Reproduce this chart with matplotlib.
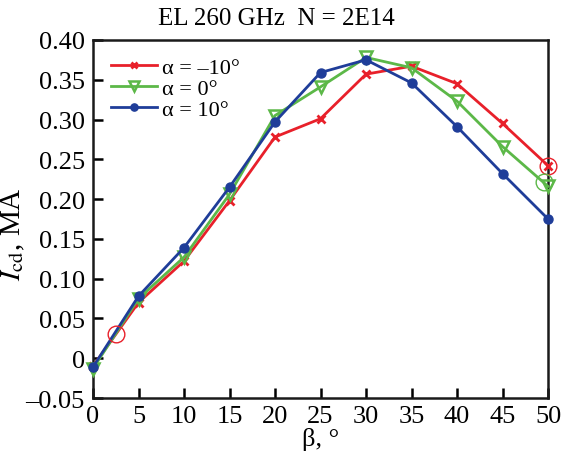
import matplotlib
matplotlib.use("Agg")
import matplotlib.pyplot as plt

beta = [0, 5, 10, 15, 20, 25, 30, 35, 40, 45, 50]
icd_m10 = [-0.010, 0.070, 0.122, 0.198, 0.278, 0.301, 0.357, 0.367, 0.345, 0.295, 0.242]
icd_0 = [-0.013, 0.075, 0.127, 0.206, 0.305, 0.341, 0.378, 0.365, 0.323, 0.266, 0.216]
icd_p10 = [-0.011, 0.078, 0.139, 0.215, 0.297, 0.359, 0.375, 0.346, 0.291, 0.232, 0.175]

circ_red_x = [2.5, 50]
circ_red_y = [0.030, 0.242]
circ_green_x = [49.6]
circ_green_y = [0.221]

labels = ["α = –10°", "α = 0°", "α = 10°"]
xticks = [0, 5, 10, 15, 20, 25, 30, 35, 40, 45, 50]
yticks = [-0.05, 0, 0.05, 0.10, 0.15, 0.20, 0.25, 0.30, 0.35, 0.40]
yticklabels = ["–0.05", "0", "0.05", "0.10", "0.15", "0.20", "0.25", "0.30", "0.35", "0.40"]

red = "#e8202a"
green = "#5cb848"
blue = "#1f3d99"

plt.rcParams["font.family"] = ["Liberation Serif", "DejaVu Serif"]
plt.rcParams["mathtext.fontset"] = "stix"

fig = plt.figure(figsize=(5.72, 4.6), dpi=100)
ax = fig.add_axes([0.1626, 0.1326, 0.7955, 0.7784])

ax.plot(beta, icd_m10, color=red, lw=2.0, marker="x", ms=5.5, mew=2.0, label=labels[0], clip_on=False, zorder=3)
ax.plot(beta, icd_0, color=green, lw=2.0, marker="v", ms=9, mfc="none", mew=1.8, label=labels[1], clip_on=False, zorder=3)
ax.plot(beta, icd_p10, color=blue, lw=2.0, marker="o", ms=6.5, label=labels[2], clip_on=False, zorder=4)

ax.plot(circ_red_x, circ_red_y, ls="none", marker="o", ms=12, mfc="none", mec=red, mew=1.0, clip_on=False, zorder=5)
ax.plot(circ_green_x, circ_green_y, ls="none", marker="o", ms=12, mfc="none", mec=green, mew=1.0, clip_on=False, zorder=5)

ax.set_xlim(0, 50)
ax.set_ylim(-0.05, 0.40)
ax.set_xticks(xticks)
ax.set_xticklabels([str(t) for t in xticks])
ax.set_yticks(yticks)
ax.set_yticklabels(yticklabels)
ax.tick_params(direction="in", length=7, width=1.8, labelsize=19)
ax.tick_params(axis="y", pad=6)
ax.tick_params(axis="x", pad=5)
for s in ax.spines.values():
    s.set_linewidth(1.8)
    s.set_color("#1a1a1a")

fig.text(276 / 572, 1 - 19 / 460, "EL 260 GHz  N = 2E14", fontsize=18, ha="center", va="center")
ax.set_xlabel("β, °", fontsize=19, labelpad=0)
ax.set_ylabel(r"$I_{\rm cd}$, MA", fontsize=21)
ax.yaxis.set_label_coords(-0.145, 0.46)

leg = ax.legend(loc="upper left", frameon=False, fontsize=16, handlelength=2.1,
                handletextpad=0.2, labelspacing=0.02, borderaxespad=0.4, markerscale=0.8)

fig.savefig("out.png", dpi=100)
